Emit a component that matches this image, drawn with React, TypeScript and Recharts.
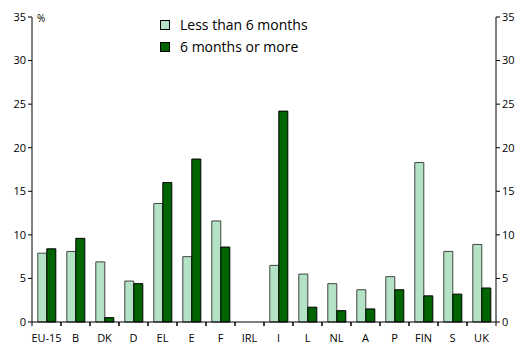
import { BarChart, Bar, XAxis, YAxis } from "recharts";

const countries = ["EU-15", "B", "DK", "D", "EL", "E", "F", "IRL", "I", "L", "NL", "A", "P", "FIN", "S", "UK"];
const lessThan6 = [7.9, 8.1, 6.9, 4.7, 13.6, 7.5, 11.6, null, 6.5, 5.5, 4.4, 3.7, 5.2, 18.3, 8.1, 8.9];
const sixOrMore = [8.4, 9.6, 0.5, 4.4, 16.0, 18.7, 8.6, null, 24.2, 1.7, 1.3, 1.5, 3.7, 3.0, 3.2, 3.9];
const yTicks = [0, 5, 10, 15, 20, 25, 30, 35];
const legendItems = ["Less than 6 months", "6 months or more"];

const LIGHT = "#b3e2c4";
const DARK = "#006400";
const FONT = "'Open Sans', 'DejaVu Sans', sans-serif";

const data = countries.map((c, i) => ({ name: c, less: lessThan6[i], more: sixOrMore[i] }));

// category tick: label plus small marks on the band edges
function CatTick(props: any) {
  const { x, y, payload } = props;
  const half = 14.5;
  return (
    <g>
      <line x1={x - half} y1={y - 8} x2={x - half} y2={y - 4} stroke="#000" />
      <line x1={x + half} y1={y - 8} x2={x + half} y2={y - 4} stroke="#000" />
      <text x={x} y={y + 12} textAnchor="middle" fontSize={11} fontFamily={FONT} fill="#000">
        {payload.value}
      </text>
    </g>
  );
}

export default function App() {
  const colors = [LIGHT, DARK];
  return (
    <div style={{ position: "absolute", left: 0, top: 0, width: 516, height: 347, background: "#fff" }}>
      <BarChart
        width={516}
        height={347}
        data={data}
        margin={{ top: 17, right: 0, bottom: 0, left: 0 }}
        barCategoryGap="20%"
        barGap={0}
      >
        <XAxis
          dataKey="name"
          height={25}
          stroke="#000"
          tickLine={false}
          tick={<CatTick />}
          interval={0}
        />
        <YAxis
          yAxisId="left"
          orientation="left"
          width={32}
          domain={[0, 35]}
          ticks={yTicks}
          tickSize={4}
          stroke="#000"
          tick={{ fontSize: 11, fontFamily: FONT, fill: "#000" }}
          interval={0}
        />
        <YAxis
          yAxisId="right"
          orientation="right"
          width={20}
          domain={[0, 35]}
          ticks={yTicks}
          tickSize={4}
          stroke="#000"
          tick={{ fontSize: 11, fontFamily: FONT, fill: "#000" }}
          interval={0}
        />
        <Bar yAxisId="left" dataKey="less" fill={LIGHT} stroke="#444" strokeWidth={1} isAnimationActive={false} />
        <Bar yAxisId="right" dataKey="more" fill={DARK} stroke="#000" strokeWidth={1} isAnimationActive={false} />
      </BarChart>
      <div style={{ position: "absolute", left: 37, top: 11, fontFamily: FONT, fontSize: 10, color: "#000" }}>%</div>
      <div style={{ position: "absolute", left: 160, top: 14, fontFamily: FONT, fontSize: 14, lineHeight: "22px", color: "#000" }}>
        {legendItems.map((label, i) => (
          <div key={label} style={{ display: "flex", alignItems: "center" }}>
            <span
              style={{
                display: "inline-block",
                width: 8,
                height: 8,
                background: colors[i],
                border: "1px solid #000",
                marginRight: 10,
              }}
            />
            {label}
          </div>
        ))}
      </div>
    </div>
  );
}
